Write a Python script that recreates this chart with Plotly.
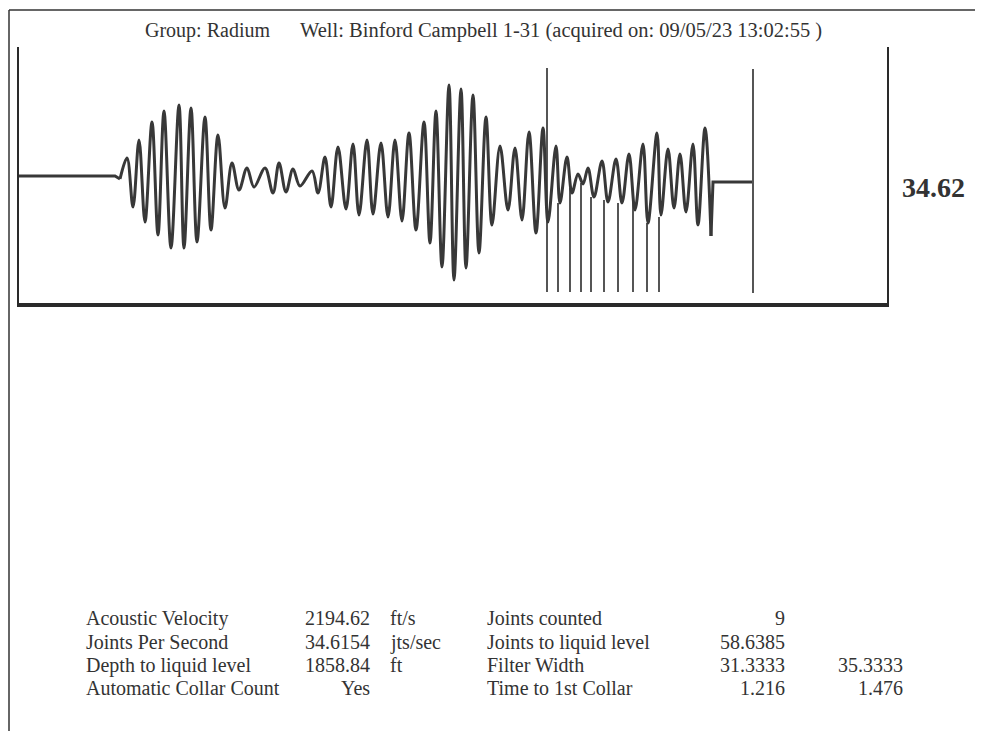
import plotly.graph_objects as go

# ---------------- data ----------------
# acoustic trace: time in samples, amplitude in counts (turning points)
lead_t = [0, 96, 101]
lead_a = [0, 0, -3]

wave_t = [101, 108, 114, 120, 126, 133, 139, 145, 152, 160, 165, 172, 178, 186, 192,
          199, 206, 213, 220, 228, 235, 246, 254, 260, 267, 274, 281, 293, 299, 306,
          312, 319, 327, 334, 340, 348, 354, 362, 369, 376, 383, 390, 397, 405, 411,
          417, 423, 430, 435, 442, 447, 454, 460, 467, 473, 481, 489, 496, 503, 510,
          517, 524, 529, 537, 541, 548, 553, 559, 564, 569, 575, 583, 589, 597, 603,
          610, 616, 624, 629, 638, 642, 649, 655, 661, 667, 674, 679, 686, 692]
wave_a = [-3, 18, -31, 36, -46, 54, -59, 65, -72, 71, -72, 68, -66, 59, -54,
          41, -32, 13, -14, 8, -11, 8, -17, 13, -16, 7, -10, 5, -17, 19,
          -31, 29, -33, 32, -39, 36, -38, 33, -41, 36, -45, 43, -54, 54, -67,
          65, -91, 91, -104, 87, -92, 81, -77, 59, -49, 30, -34, 28, -44, 44,
          -57, 48, -46, 30, -27, 19, -17, 2, -8, 8, -21, 15, -26, 17, -27,
          22, -34, 32, -47, 43, -39, 27, -32, 22, -36, 32, -49, 48, -60]

tail_t = [692, 694, 733]
tail_a = [-60, -6, -6]

# collar markers
collar_t = [528, 539, 551, 562, 572, 585, 599, 614, 628, 640]
collar_top = [108, -27, -12, -7, -21, -24, -27, -24, -47, -41]
collar_bottom = -116

# liquid level marker
liquid_t = 734
liquid_top = 107
liquid_bottom = -117

jps_label = "34.62"

title_group = "Group: Radium"
title_well = "Well: Binford Campbell 1-31 (acquired on: 09/05/23 13:02:55 )"

table_left_labels = ["Acoustic Velocity", "Joints Per Second", "Depth to liquid level", "Automatic Collar Count"]
table_left_values = ["2194.62", "34.6154", "1858.84", "Yes"]
table_left_units = ["ft/s", "jts/sec", "ft", ""]
table_right_labels = ["Joints counted", "Joints to liquid level", "Filter Width", "Time to 1st Collar"]
table_right_values = ["9", "58.6385", "31.3333", "1.216"]
table_right_values2 = ["", "", "35.3333", "1.476"]

# ---------------- layout geometry ----------------
# the page body adds an 8px margin, so the figure is drawn 8px smaller
OFF = 8
W, H = 983 - OFF, 731 - OFF
ML, MR, MT, MB = 19 - OFF, 96, 47 - OFF, 428
PW = W - ML - MR
PH = H - MT - MB

def px_x(px):
    return (px - OFF - ML) / PW

def px_y(py):
    return (H - MB - (py - OFF)) / PH

INK = "#383838"
SERIF = "Liberation Serif, Times New Roman, serif"

fig = go.Figure()

fig.add_trace(go.Scatter(x=lead_t, y=lead_a, mode="lines",
                         line=dict(color=INK, width=3), hoverinfo="skip"))
fig.add_trace(go.Scatter(x=wave_t, y=wave_a, mode="lines",
                         line=dict(color=INK, width=3, shape="spline", smoothing=1.0),
                         hoverinfo="skip"))
fig.add_trace(go.Scatter(x=tail_t, y=tail_a, mode="lines",
                         line=dict(color=INK, width=3), hoverinfo="skip"))

cx, cy = [], []
for t, top in zip(collar_t, collar_top):
    cx += [t, t, None]
    cy += [top, collar_bottom, None]
cx += [liquid_t, liquid_t, None]
cy += [liquid_top, liquid_bottom, None]
fig.add_trace(go.Scatter(x=cx, y=cy, mode="lines",
                         line=dict(color=INK, width=1.7), hoverinfo="skip"))

fig.update_xaxes(range=[0, PW], showgrid=False, zeroline=False, showticklabels=False,
                 ticks="", showline=True, linecolor="#2a2a2a", linewidth=3.5, mirror=False)
fig.update_yaxes(range=[-(303 - 176), 176 - 47], showgrid=False, zeroline=False,
                 showticklabels=False, ticks="", showline=True, linecolor="#2a2a2a",
                 linewidth=2.2, mirror=True)

ann = []
ann.append(dict(text=title_group, x=px_x(143), y=px_y(30), xref="paper", yref="paper",
                xanchor="left", yanchor="middle", showarrow=False,
                font=dict(family=SERIF, size=20, color="#333")))
ann.append(dict(text=title_well, x=px_x(298), y=px_y(30), xref="paper", yref="paper",
                xanchor="left", yanchor="middle", showarrow=False,
                font=dict(family=SERIF, size=20.5, color="#333")))
ann.append(dict(text="<b>%s</b>" % jps_label, x=px_x(933), y=px_y(187), xref="paper",
                yref="paper", xanchor="center", yanchor="middle", showarrow=False,
                font=dict(family=SERIF, size=28, color="#333")))

rows_y = [618, 642, 665, 688]
tf = dict(family=SERIF, size=20, color="#333")
for i, ry in enumerate(rows_y):
    cells = [
        (table_left_labels[i], 84, "left"),
        (table_left_values[i], 372, "right"),
        (table_left_units[i], 388, "left"),
        (table_right_labels[i], 485, "left"),
        (table_right_values[i], 787, "right"),
        (table_right_values2[i], 905, "right"),
    ]
    for txt, xx, anc in cells:
        if not txt:
            continue
        ann.append(dict(text=txt, x=px_x(xx), y=px_y(ry), xref="paper", yref="paper",
                        xanchor=anc, yanchor="middle", showarrow=False, font=tf))

shapes = [
    dict(type="line", xref="paper", yref="paper", x0=px_x(9), x1=px_x(983),
         y0=px_y(10), y1=px_y(10), line=dict(color="#333", width=1.5)),
    dict(type="line", xref="paper", yref="paper", x0=px_x(9), x1=px_x(9),
         y0=px_y(10), y1=px_y(731), line=dict(color="#333", width=1.5)),
]

fig.update_layout(width=W, height=H, margin=dict(l=ML, r=MR, t=MT, b=MB),
                  paper_bgcolor="white", plot_bgcolor="white", showlegend=False,
                  annotations=ann, shapes=shapes)

fig.write_html("out.html")
